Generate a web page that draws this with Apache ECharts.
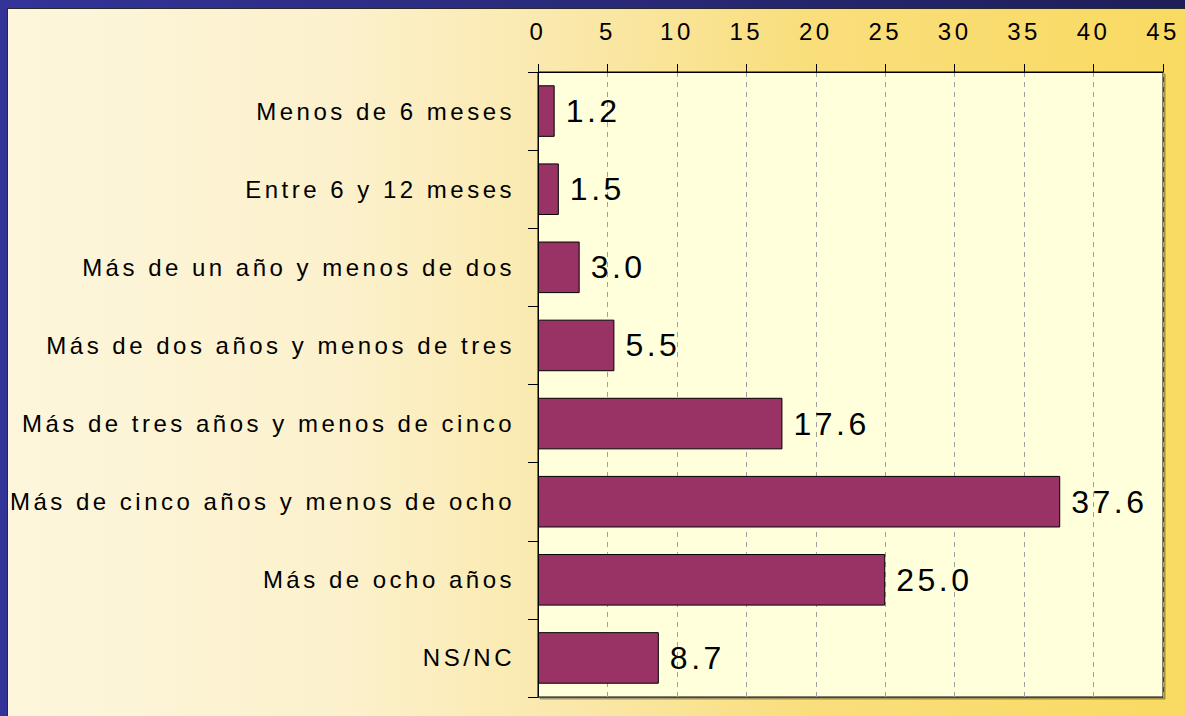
<!DOCTYPE html>
<html>
<head>
<meta charset="utf-8">
<script src="https://cdn.jsdelivr.net/npm/echarts@6/dist/echarts.min.js"></script>
<style>
  html, body { margin: 0; padding: 0; }
  body {
    width: 1185px; height: 716px; overflow: hidden; position: relative;
    background: linear-gradient(to right, #333399 0%, #2c2c80 40%, #1e1e58 100%);
  }
  #panel {
    position: absolute; left: 7px; top: 8px; right: 0; bottom: 0;
    border-left: 1px solid #2a2a2a; border-top: 1px solid #2a2a2a;
    background: linear-gradient(to right, #fdf6dc 0%, #fcf1cd 28%, #fae8aa 48%, #f9de7c 68%, #f9da62 100%);
  }
  #chart { position: absolute; left: 0; top: 0; width: 1185px; height: 716px; }
  /* separación de letras como en el original */
  #chart text { letter-spacing: 3.5px; }
</style>
</head>
<body>
<div id="panel"></div>
<div id="chart"></div>
<script>
// categorías (de arriba a abajo)
var categorias = [
  'Menos de 6 meses',
  'Entre 6 y 12 meses',
  'Más de un año y menos de dos',
  'Más de dos años y menos de tres',
  'Más de tres años y menos de cinco',
  'Más de cinco años y menos de ocho',
  'Más de ocho años',
  'NS/NC'
];
// porcentajes
var valores = [1.2, 1.5, 3.0, 5.5, 17.6, 37.6, 25.0, 8.7];
// eje
var ejeMin = 0;
var ejeMax = 45;
var ejePaso = 5;

var fuente = 'Liberation Sans, Arial, sans-serif';

var myChart = echarts.init(document.getElementById('chart'), null, { renderer: 'svg' });

var option = {
  animation: false,
  grid: {
    left: 538,
    top: 72,
    width: 625,
    height: 625,
    show: true,
    backgroundColor: '#ffffdb',
    borderColor: '#000',
    borderWidth: 1,
    shadowColor: 'rgba(0,0,0,0.35)',
    shadowOffsetX: 2,
    shadowOffsetY: 2,
    shadowBlur: 0
  },
  xAxis: {
    type: 'value',
    position: 'top',
    min: ejeMin,
    max: ejeMax,
    interval: ejePaso,
    axisLine: { show: true, lineStyle: { color: '#000', width: 1 } },
    axisTick: { show: true, length: 8, lineStyle: { color: '#000' } },
    axisLabel: {
      color: '#000',
      fontSize: 24,
      fontFamily: fuente,
      margin: 29
    },
    splitLine: {
      show: true,
      lineStyle: { color: '#a0a0a0', type: [5, 5], width: 1 }
    }
  },
  yAxis: {
    type: 'category',
    inverse: true,
    data: categorias,
    axisLine: { show: true, lineStyle: { color: '#000', width: 1 } },
    axisTick: { show: true, length: 10, lineStyle: { color: '#000' } },
    axisLabel: {
      color: '#000',
      fontSize: 24,
      fontFamily: fuente,
      margin: 23,
      interval: 0
    },
    splitLine: { show: false }
  },
  series: [{
    type: 'bar',
    data: valores,
    barWidth: '66%',
    itemStyle: {
      color: '#993366',
      borderColor: '#000',
      borderWidth: 1
    },
    label: {
      show: true,
      position: 'right',
      distance: 11,
      color: '#000',
      fontSize: 32,
      fontFamily: fuente,
      formatter: function (p) {
        return p.value.toFixed(1);
      }
    }
  }]
};
myChart.setOption(option);
</script>
</body>
</html>
